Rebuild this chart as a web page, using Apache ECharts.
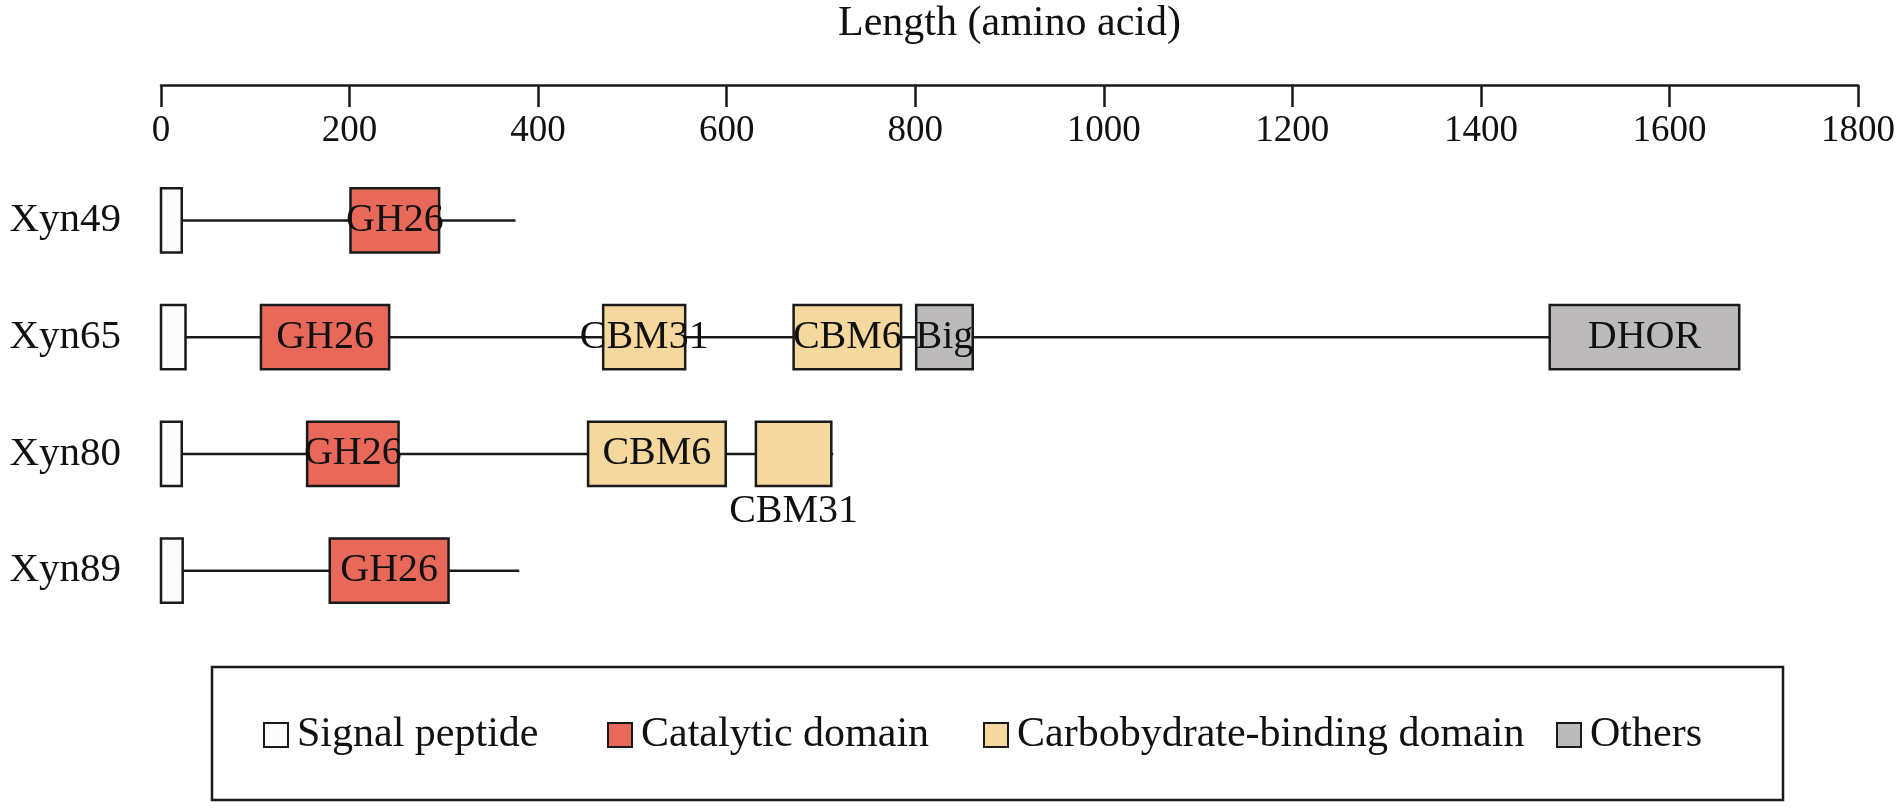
<!DOCTYPE html>
<html>
<head>
<meta charset="utf-8">
<script src="https://cdn.jsdelivr.net/npm/echarts@6/dist/echarts.min.js"></script>
<style>
  html, body { margin: 0; padding: 0; background: #fff; }
  #main { width: 1902px; height: 808px; }
</style>
</head>
<body>
<div id="main"></div>
<script>
// proteins, top to bottom
var proteins = ['Xyn49', 'Xyn65', 'Xyn80', 'Xyn89'];
var proteinLength = [376, 1674, 713, 380];

// domains: [row, start, end, label, labelPos]
var signalPeptide = [[0, 0, 22, ''], [1, 0, 26, ''], [2, 0, 22, ''], [3, 0, 23, '']];
var catalyticDomain = [
  [0, 201, 295, 'GH26'],
  [1, 106, 242, 'GH26'],
  [2, 155, 252, 'GH26'],
  [3, 179, 305, 'GH26']
];
var cbmDomain = [
  [1, 469, 556, 'CBM31'],
  [1, 671, 785, 'CBM6'],
  [2, 453, 599, 'CBM6'],
  [2, 631, 711, 'CBM31', 'bottom']
];
var otherDomain = [
  [1, 801, 861, 'Big'],
  [1, 1473, 1674, 'DHOR']
];

var axisTicks = [0, 200, 400, 600, 800, 1000, 1200, 1400, 1600, 1800];
var legendNames = ['Signal peptide', 'Catalytic domain', 'Carbobydrate-binding domain', 'Others'];

var FONT = '"Liberation Serif", "Times New Roman", serif';

var backbone = proteins.map(function (p, i) { return [i, 0, proteinLength[i]]; });

function renderLine(params, api) {
  var a = api.coord([api.value(1), api.value(0)]);
  var b = api.coord([api.value(2), api.value(0)]);
  return {
    type: 'line',
    shape: { x1: a[0], y1: a[1], x2: b[0], y2: b[1] },
    style: { stroke: '#1a1a1a', lineWidth: 2.5 }
  };
}

function makeRender(fill, data) {
  return function (params, api) {
    var row = api.value(0);
    var a = api.coord([api.value(1), row]);
    var b = api.coord([api.value(2), row]);
    var h = api.size([0, 1])[1] * 0.55;
    var d = data[params.dataIndex];
    var below = d[4] === 'bottom';
    return {
      type: 'rect',
      shape: { x: a[0], y: a[1] - h / 2, width: b[0] - a[0], height: h },
      style: { fill: fill, stroke: '#1a1a1a', lineWidth: 2.5 },
      textContent: {
        style: { text: d[3] || '', fontFamily: FONT, fontSize: 40, fill: '#111' }
      },
      textConfig: { position: below ? 'bottom' : 'inside', distance: 4 }
    };
  };
}

function domainSeries(name, fill, data) {
  return {
    name: name,
    type: 'custom',
    renderItem: makeRender(fill, data),
    itemStyle: { color: fill, borderColor: '#1a1a1a', borderWidth: 2 },
    encode: { x: [1, 2], y: 0 },
    data: data,
    z: 3
  };
}

var legendLeft = [263, 607, 983, 1556];
var legends = legendNames.map(function (n, i) {
  return {
    left: legendLeft[i],
    top: 714,
    itemWidth: 24,
    itemHeight: 24,
    icon: 'rect',
    padding: 0,
    textStyle: { fontFamily: FONT, fontSize: 42, color: '#111', padding: [0, 0, 0, 4] },
    data: [n]
  };
});

var chart = echarts.init(document.getElementById('main'));
chart.setOption({
  animation: false,
  backgroundColor: '#fff',
  grid: { left: 161, right: 44, top: 162, height: 467, containLabel: false, outerBoundsMode: 'none' },
  xAxis: {
    type: 'value',
    position: 'top',
    offset: 77,
    min: 0,
    max: 1800,
    interval: 200,
    name: 'Length (amino acid)',
    nameLocation: 'middle',
    nameGap: 40,
    nameTextStyle: { fontFamily: FONT, fontSize: 42, color: '#111' },
    axisLine: { show: true, lineStyle: { color: '#1a1a1a', width: 2.5 } },
    axisTick: { show: true, inside: true, length: 22, lineStyle: { color: '#1a1a1a', width: 2.5 } },
    axisLabel: {
      inside: true, margin: 28, fontFamily: FONT, fontSize: 37, color: '#111',
      verticalAlign: 'top',
      formatter: function (v) { return axisTicks.indexOf(v) >= 0 ? String(v) : ''; }
    },
    splitLine: { show: false }
  },
  yAxis: {
    type: 'category',
    inverse: true,
    data: proteins,
    axisLine: { show: false },
    axisTick: { show: false },
    axisLabel: { margin: 40, fontFamily: FONT, fontSize: 41, color: '#111' },
    splitLine: { show: false }
  },
  legend: legends,
  graphic: [{
    type: 'rect',
    shape: { x: 212, y: 667, width: 1571, height: 133 },
    style: { fill: 'none', stroke: '#1a1a1a', lineWidth: 2.5 },
    silent: true
  }],
  series: [
    {
      name: 'backbone',
      type: 'custom',
      renderItem: renderLine,
      encode: { x: [1, 2], y: 0 },
      data: backbone,
      z: 1
    },
    domainSeries('Signal peptide', '#fbfcfc', signalPeptide),
    domainSeries('Catalytic domain', '#e8695a', catalyticDomain),
    domainSeries('Carbobydrate-binding domain', '#f4d89d', cbmDomain),
    domainSeries('Others', '#bcbabb', otherDomain)
  ]
});
</script>
</body>
</html>
